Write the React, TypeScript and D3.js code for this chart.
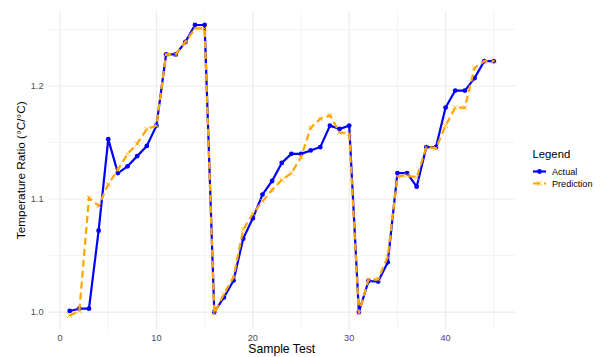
import React from "react";
import * as d3 from "d3";

const samples = d3.range(1, 46);

const actual = [
  1.001, 1.003, 1.003, 1.072, 1.153, 1.123, 1.129, 1.138, 1.147, 1.165,
  1.228, 1.228, 1.239, 1.254, 1.254, 1.0, 1.013, 1.028, 1.065, 1.083,
  1.104, 1.116, 1.132, 1.14, 1.14, 1.143, 1.146, 1.165, 1.162, 1.165,
  1.0, 1.0275, 1.027, 1.044, 1.123, 1.123, 1.111, 1.146, 1.146, 1.181,
  1.196, 1.196, 1.207, 1.222, 1.222,
];

const prediction = [
  0.997, 1.001, 1.101, 1.094, 1.113, 1.126, 1.14, 1.149, 1.162, 1.165,
  1.228, 1.228, 1.239, 1.251, 1.251, 0.999, 1.016, 1.031, 1.073, 1.087,
  1.098, 1.108, 1.117, 1.123, 1.137, 1.163, 1.171, 1.174, 1.159, 1.158,
  0.999, 1.029, 1.029, 1.049, 1.12, 1.121, 1.119, 1.146, 1.145, 1.165,
  1.181, 1.181, 1.216, 1.222, 1.222,
];

const xTicks = [0, 10, 20, 30, 40];
const xMinor = [5, 15, 25, 35, 45];
const yTicks = [1.0, 1.1, 1.2];
const yMinor = [1.05, 1.15, 1.25];

const W = 603;
const H = 357;
const panel = { left: 48.5, right: 515, top: 10.5, bottom: 330 };

const BLUE = "#0000FF";
const ORANGE = "#FFA500";
const GRID = "#EBEBEB";
const FONT = "'Liberation Sans', Arial, sans-serif";

export default function App() {
  // ggplot-style 5% expansion on both axes
  const xExt = d3.extent(samples) as [number, number];
  const xPad = (xExt[1] - xExt[0]) * 0.05;
  const x = d3
    .scaleLinear()
    .domain([xExt[0] - xPad, xExt[1] + xPad])
    .range([panel.left, panel.right]);

  const yExt = d3.extent([...actual, ...prediction]) as [number, number];
  const yPad = (yExt[1] - yExt[0]) * 0.05;
  const y = d3
    .scaleLinear()
    .domain([yExt[0] - yPad, yExt[1] + yPad])
    .range([panel.bottom, panel.top]);

  const line = d3
    .line<number>()
    .x((_, i) => x(samples[i]))
    .y((d) => y(d));

  const cross = (cx: number, cy: number, s: number, key?: React.Key) => (
    <path
      key={key}
      d={`M${cx - s},${cy - s}L${cx + s},${cy + s}M${cx - s},${cy + s}L${cx + s},${cy - s}`}
      stroke={ORANGE}
      strokeWidth={0.8}
      fill="none"
    />
  );

  return (
    <svg
      width={W}
      height={H}
      style={{ position: "absolute", left: 0, top: 0, background: "#fff" }}
      fontFamily={FONT}
    >
      {/* grid */}
      {xMinor.map((t) => (
        <line key={"xm" + t} x1={x(t)} x2={x(t)} y1={panel.top} y2={panel.bottom} stroke={GRID} strokeWidth={0.6} />
      ))}
      {yMinor.map((t) => (
        <line key={"ym" + t} x1={panel.left} x2={panel.right} y1={y(t)} y2={y(t)} stroke={GRID} strokeWidth={0.6} />
      ))}
      {xTicks.map((t) => (
        <line key={"x" + t} x1={x(t)} x2={x(t)} y1={panel.top} y2={panel.bottom} stroke={GRID} strokeWidth={1.1} />
      ))}
      {yTicks.map((t) => (
        <line key={"y" + t} x1={panel.left} x2={panel.right} y1={y(t)} y2={y(t)} stroke={GRID} strokeWidth={1.1} />
      ))}

      {/* actual */}
      <path d={line(actual) ?? ""} fill="none" stroke={BLUE} strokeWidth={2.2} strokeLinejoin="round" />
      {actual.map((d, i) => (
        <circle key={"a" + i} cx={x(samples[i])} cy={y(d)} r={2.4} fill={BLUE} />
      ))}

      {/* prediction */}
      <path
        d={line(prediction) ?? ""}
        fill="none"
        stroke={ORANGE}
        strokeWidth={2.2}
        strokeDasharray="7,4"
      />
      {prediction.map((d, i) => cross(x(samples[i]), y(d), 2.4, "p" + i))}

      {/* axes text */}
      {xTicks.map((t) => (
        <text key={"xl" + t} x={x(t)} y={341} textAnchor="middle" fontSize={9.2} fill="#4D4D4D">
          {t}
        </text>
      ))}
      {yTicks.map((t) => (
        <text key={"yl" + t} x={43.5} y={y(t) + 3.3} textAnchor="end" fontSize={9.2} fill="#4D4D4D">
          {t.toFixed(1)}
        </text>
      ))}
      <text x={(panel.left + panel.right) / 2} y={353} textAnchor="middle" fontSize={12.2} fill="#000">
        Sample Test
      </text>
      <text
        transform={`translate(25,${(panel.top + panel.bottom) / 2}) rotate(-90)`}
        textAnchor="middle"
        fontSize={11.8}
        fill="#000"
      >
        Temperature Ratio (°C/°C)
      </text>

      {/* legend */}
      <text x={532.5} y={157.5} fontSize={11.3} fill="#000">
        Legend
      </text>
      <line x1={533} x2={546} y1={171.5} y2={171.5} stroke={BLUE} strokeWidth={2.2} />
      <circle cx={539.5} cy={171.5} r={2.4} fill={BLUE} />
      <text x={552} y={174.8} fontSize={9.1} fill="#000">
        Actual
      </text>
      <line x1={533} x2={546} y1={183.5} y2={183.5} stroke={ORANGE} strokeWidth={2.2} strokeDasharray="7,4" />
      {cross(539.5, 183.5, 2.4)}
      <text x={552} y={186.8} fontSize={9.1} fill="#000">
        Prediction
      </text>
    </svg>
  );
}
